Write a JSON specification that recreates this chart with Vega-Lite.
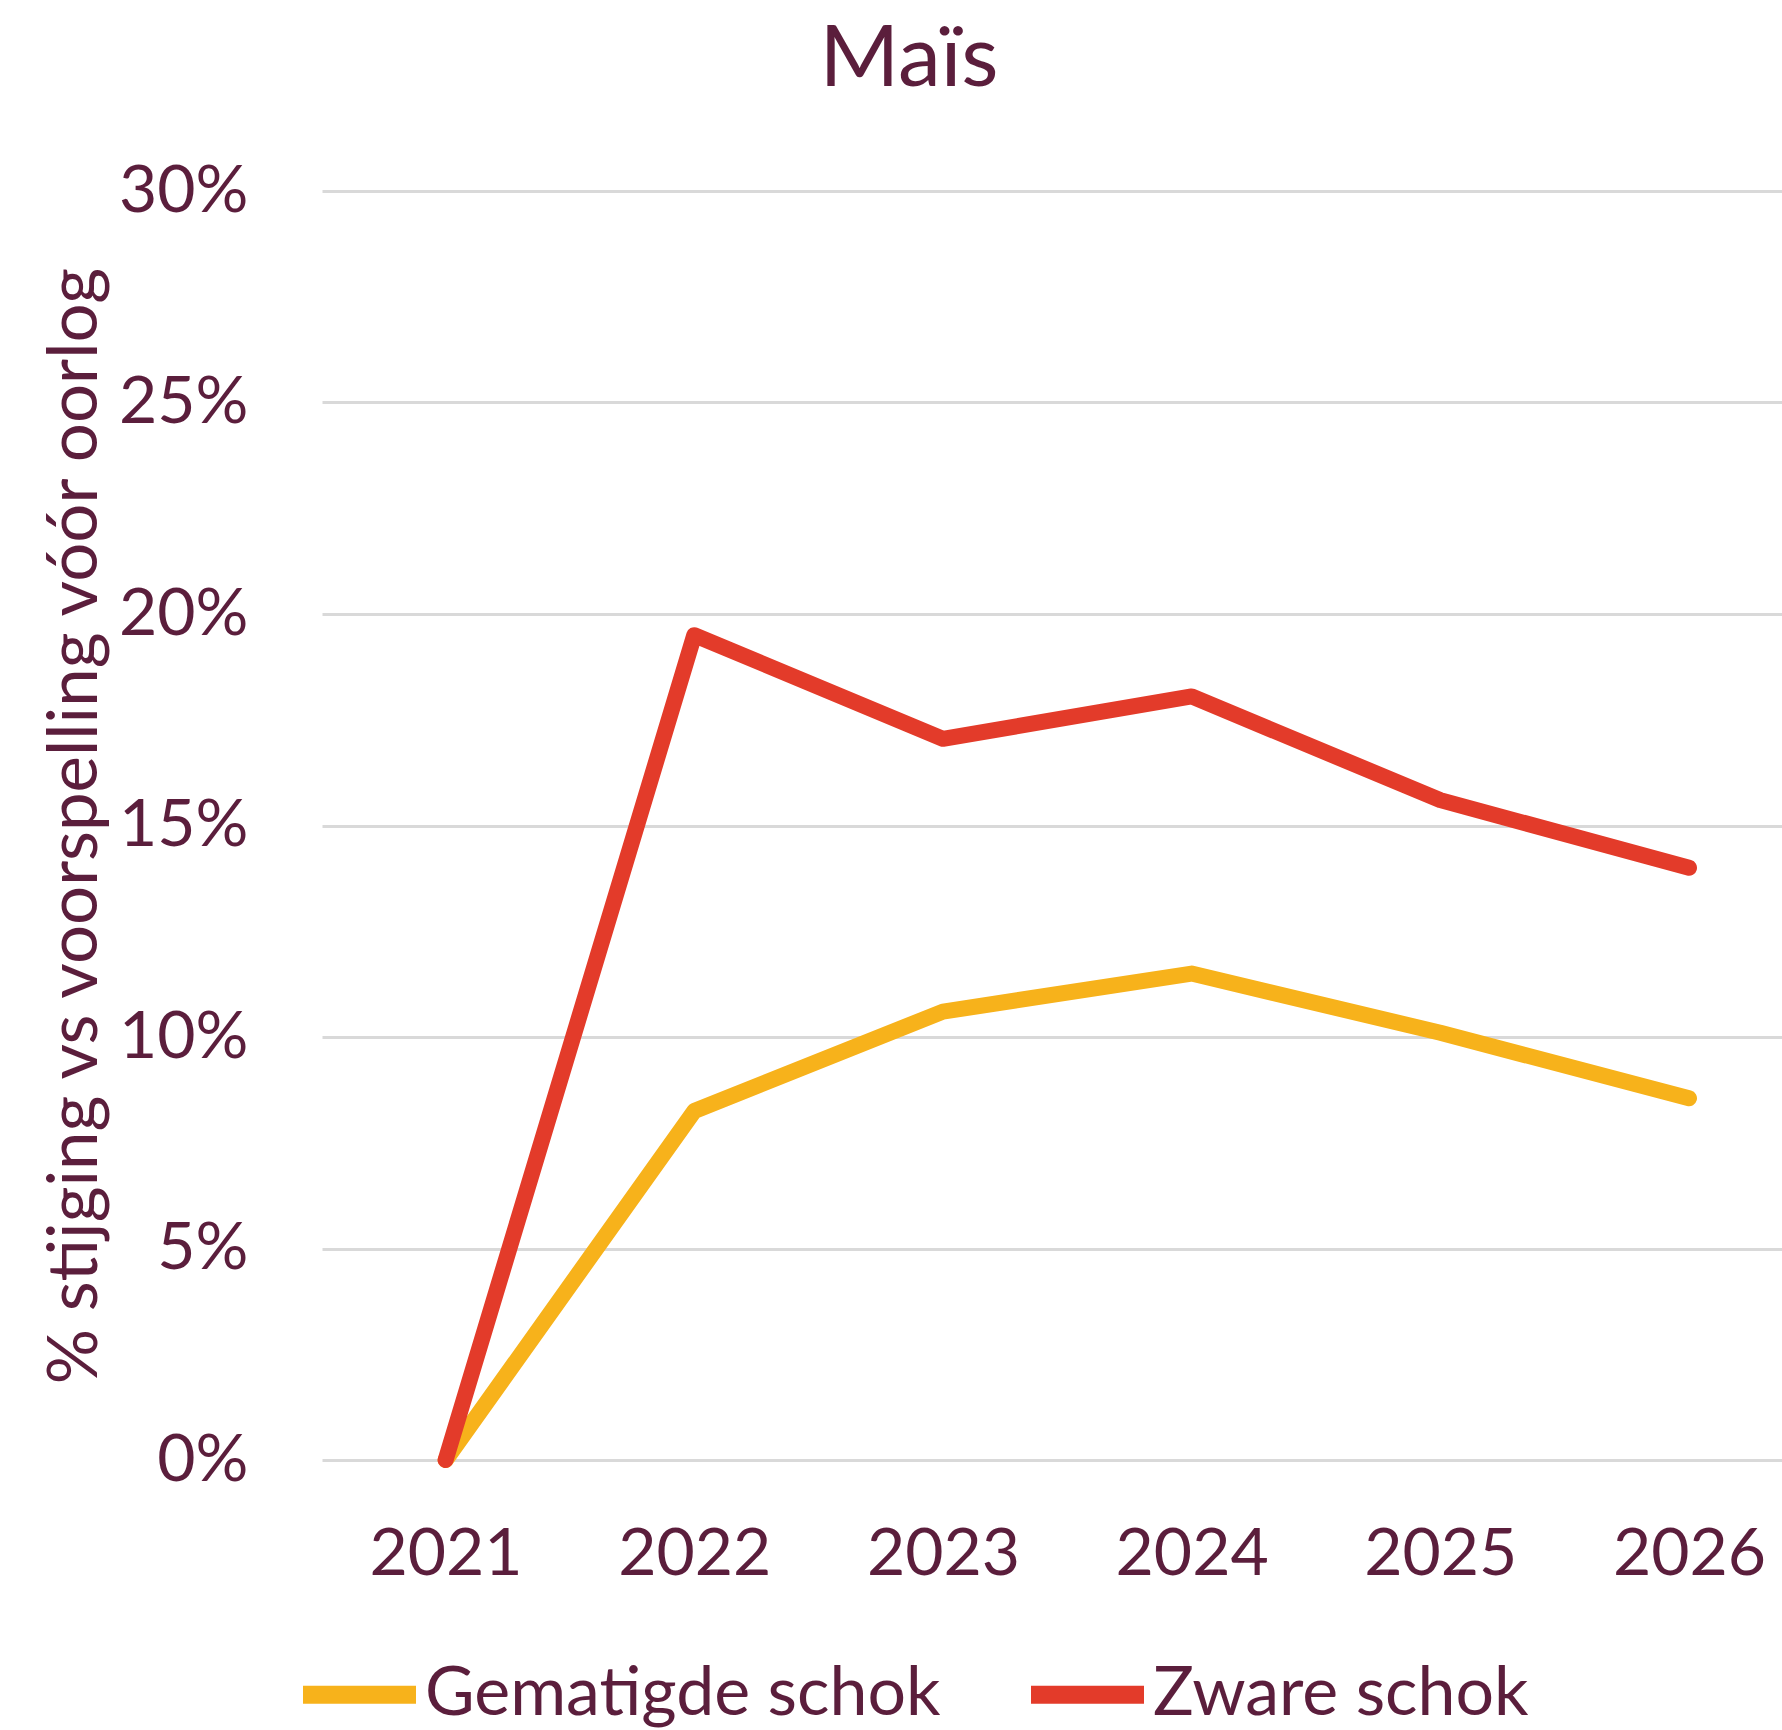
{
  "$schema": "https://vega.github.io/schema/vega-lite/v6.json",
  "autosize": {"type": "none"},
  "padding": {"left": 322, "top": 191, "right": 0, "bottom": 270},
  "width": 1460,
  "height": 1269,
  "background": "white",
  "config": {
    "font": "Lato",
    "view": {"stroke": null},
    "axis": {"labelColor": "#5B1E3C", "titleColor": "#5B1E3C", "labelFont": "Lato", "titleFont": "Lato"},
    "legend": {"labelColor": "#5B1E3C", "labelFont": "Lato"}
  },
  "title": {
    "text": "Maïs",
    "fontSize": 86,
    "fontWeight": "normal",
    "color": "#5B1E3C",
    "anchor": "middle",
    "dx": -143,
    "dy": 86,
    "baseline": "alphabetic",
    "offset": 72
  },
  "data": {
    "values": [
      {"jaar": 2021, "scenario": "Gematigde schok", "waarde": 0.0},
      {"jaar": 2022, "scenario": "Gematigde schok", "waarde": 0.0825},
      {"jaar": 2023, "scenario": "Gematigde schok", "waarde": 0.106},
      {"jaar": 2024, "scenario": "Gematigde schok", "waarde": 0.115},
      {"jaar": 2025, "scenario": "Gematigde schok", "waarde": 0.101},
      {"jaar": 2026, "scenario": "Gematigde schok", "waarde": 0.0855},
      {"jaar": 2021, "scenario": "Zware schok", "waarde": 0.0},
      {"jaar": 2022, "scenario": "Zware schok", "waarde": 0.195},
      {"jaar": 2023, "scenario": "Zware schok", "waarde": 0.1705},
      {"jaar": 2024, "scenario": "Zware schok", "waarde": 0.1805},
      {"jaar": 2025, "scenario": "Zware schok", "waarde": 0.156},
      {"jaar": 2026, "scenario": "Zware schok", "waarde": 0.14}
    ]
  },
  "mark": {"type": "line", "strokeWidth": 16, "strokeCap": "round", "strokeJoin": "round"},
  "encoding": {
    "x": {
      "field": "jaar",
      "type": "quantitative",
      "scale": {"domain": [2020.503, 2026.374], "nice": false, "zero": false},
      "axis": {
        "title": null,
        "values": [2021, 2022, 2023, 2024, 2025, 2026],
        "format": "d",
        "grid": false,
        "domain": false,
        "ticks": false,
        "labelFontSize": 66,
        "labelPadding": 62,
        "labelFlush": false,
        "labelOverlap": false
      }
    },
    "y": {
      "field": "waarde",
      "type": "quantitative",
      "scale": {"domain": [0, 0.3], "nice": false},
      "axis": {
        "title": "% stijging vs voorspelling vóór oorlog",
        "titleFontSize": 69,
        "titleFontWeight": "normal",
        "titlePadding": 12,
        "values": [0, 0.05, 0.1, 0.15, 0.2, 0.25, 0.3],
        "format": ".0%",
        "grid": true,
        "gridColor": "#d9d9d9",
        "gridWidth": 3,
        "domain": false,
        "ticks": false,
        "labelFontSize": 66,
        "labelPadding": 74
      }
    },
    "color": {
      "field": "scenario",
      "type": "nominal",
      "scale": {"domain": ["Gematigde schok", "Zware schok"], "range": ["#F7B21B", "#E33B2A"]},
      "legend": {
        "title": null,
        "orient": "none",
        "direction": "horizontal",
        "legendX": -28,
        "legendY": 1438,
        "symbolType": "stroke",
        "symbolSize": 12769,
        "symbolStrokeWidth": 18,
        "labelFontSize": 68,
        "labelOffset": 0,
        "columnPadding": 54,
        "labelLimit": 1000
      }
    }
  }
}
